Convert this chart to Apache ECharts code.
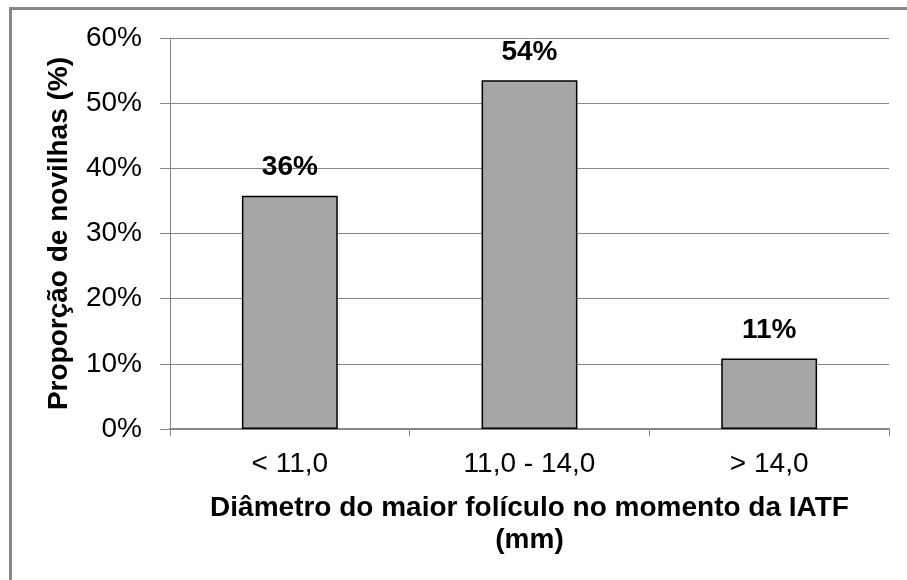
<!DOCTYPE html>
<html>
<head>
<meta charset="utf-8">
<script src="https://cdn.jsdelivr.net/npm/echarts@6/dist/echarts.min.js"></script>
<style>
html,body{margin:0;padding:0;background:#fff;}
#chart{width:907px;height:580px;}
</style>
</head>
<body>
<div id="chart"></div>
<script>
var categories = ['< 11,0', '11,0 - 14,0', '> 14,0'];
var values = [35.8, 53.5, 10.8];
var yMin = 0, yMax = 60, yInterval = 10;
var xTitle = 'Diâmetro do maior folículo no momento da IATF\n(mm)';
var yTitle = 'Proporção de novilhas (%)';

var font = '"Liberation Sans", Arial, sans-serif';
var chart = echarts.init(document.getElementById('chart'), null, {renderer: 'canvas'});
chart.setOption({
  animation: false,
  backgroundColor: '#ffffff',
  grid: {left: 170, right: 18, top: 38, bottom: 151, containLabel: false},
  graphic: [{
    type: 'rect', silent: true,
    shape: {x: 10.5, y: 8.5, width: 1200, height: 1200},
    style: {fill: 'none', stroke: '#878787', lineWidth: 3}
  }],
  xAxis: {
    type: 'category',
    data: categories,
    boundaryGap: true,
    axisLine: {show: true, lineStyle: {color: '#878787', width: 2}},
    axisTick: {show: true, length: 7, alignWithLabel: false, lineStyle: {color: '#878787', width: 1}},
    axisLabel: {color: '#000', fontFamily: font, fontSize: 28, margin: 21},
    name: xTitle,
    nameLocation: 'middle',
    nameGap: 63,
    nameTextStyle: {color: '#000', fontFamily: font, fontSize: 28, fontWeight: 'bold', lineHeight: 32, verticalAlign: 'top'}
  },
  yAxis: {
    type: 'value',
    min: yMin, max: yMax, interval: yInterval,
    axisLine: {show: true, lineStyle: {color: '#878787', width: 1}},
    axisTick: {show: true, length: 10, lineStyle: {color: '#878787', width: 1}},
    splitLine: {show: true, lineStyle: {color: '#878787', width: 1}},
    axisLabel: {color: '#000', fontFamily: font, fontSize: 28, margin: 28, formatter: '{value}%'},
    name: yTitle,
    nameLocation: 'middle',
    nameGap: 97,
    nameRotate: 90,
    nameTextStyle: {color: '#000', fontFamily: font, fontSize: 28, fontWeight: 'bold'}
  },
  series: [{
    type: 'bar',
    data: values,
    barWidth: '40%',
    itemStyle: {color: '#a6a6a6', borderColor: '#000', borderWidth: 1.5},
    label: {
      show: true, position: 'top', distance: 14,
      color: '#000', fontFamily: font, fontSize: 28, fontWeight: 'bold',
      formatter: function (p) { return Math.round(p.value) + '%'; }
    }
  }]
});
</script>
</body>
</html>
